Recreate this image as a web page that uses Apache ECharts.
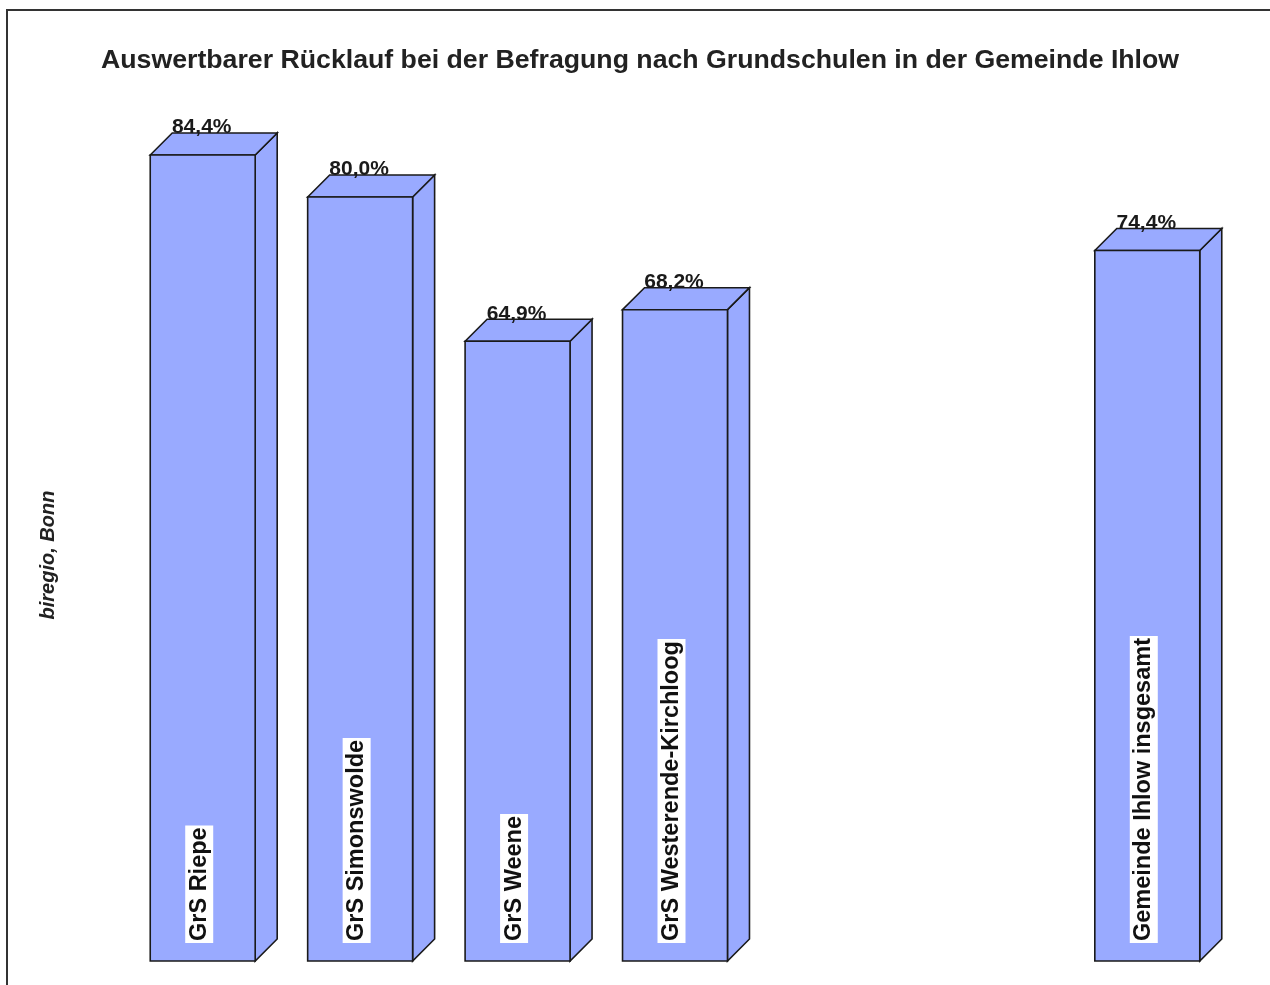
<!DOCTYPE html>
<html>
<head>
<meta charset="utf-8">
<script src="https://cdn.jsdelivr.net/npm/echarts@6/dist/echarts.min.js"></script>
<style>html,body{margin:0;padding:0;background:#fff}#c{width:1270px;height:985px}</style>
</head>
<body>
<div id="c"></div>
<script>
var titleText = 'Auswertbarer Rücklauf bei der Befragung nach Grundschulen in der Gemeinde Ihlow';
var categories = ['GrS Riepe', 'GrS Simonswolde', 'GrS Weene', 'GrS Westerende-Kirchloog', '', '', 'Gemeinde Ihlow insgesamt'];
var values = [84.4, 80.0, 64.9, 68.2, null, null, 74.4];
var sourceText = 'biregio, Bonn';

var chart = echarts.init(document.getElementById('c'), null, {renderer: 'canvas'});
var DEPTH = 22;
var FILL = '#99aaff';
var STROKE = '#1a1a1a';

function fmt(v) { return v.toFixed(1).replace('.', ',') + '%'; }

function renderItem(params, api) {
  var idx = api.value(0);
  var v = api.value(1);
  if (v == null || isNaN(v)) return;
  var top = api.coord([idx, v]);
  var base = api.coord([idx, 0]);
  var band = api.size([1, 0])[0];
  var w = band * 2 / 3;
  var x0 = top[0] - w / 2, x1 = top[0] + w / 2;
  var yt = top[1], yb = base[1];
  var d = DEPTH;
  var st = {fill: FILL, stroke: STROKE, lineWidth: 1.6, lineJoin: 'miter'};
  return {
    type: 'group',
    children: [
      {type: 'polygon', shape: {points: [[x1, yt], [x1 + d, yt - d], [x1 + d, yb - d], [x1, yb]]}, style: st},
      {type: 'polygon', shape: {points: [[x0, yt], [x0 + d, yt - d], [x1 + d, yt - d], [x1, yt]]}, style: st},
      {type: 'rect', shape: {x: x0, y: yt, width: w, height: yb - yt}, style: st},
      {type: 'text', x: top[0] - 1, y: yt - d + 5,
        style: {text: fmt(v), fill: '#1a1a1a', font: 'bold 21px "Liberation Sans", Arial, sans-serif', align: 'center', verticalAlign: 'bottom'}},
      {type: 'text', x: top[0] - 3.5, y: yb - 18, rotation: Math.PI / 2,
        style: {text: categories[idx], fill: '#111', font: 'bold 23.5px "Liberation Sans", Arial, sans-serif',
          align: 'left', verticalAlign: 'middle', backgroundColor: '#fff', padding: [2, 2, 1, 2], lineHeight: 25}}
    ]
  };
}

var data = values.map(function (v, i) { return [i, v]; });

chart.setOption({
  animation: false,
  title: {
    text: titleText, left: 101, top: 47, padding: 0,
    textStyle: {fontFamily: '"Liberation Sans", Arial, sans-serif', fontSize: 26.7, fontWeight: 'bold', color: '#222'}
  },
  grid: {left: 124, right: 44, top: 6, bottom: 24, containLabel: false},
  xAxis: {type: 'category', data: categories, show: false, boundaryGap: true},
  yAxis: {type: 'value', min: 0, max: 100, show: false},
  graphic: [
    {type: 'rect', shape: {x: 7, y: 10, width: 1300, height: 1000}, style: {fill: 'none', stroke: '#333', lineWidth: 2}, z: 100},
    {type: 'text', x: 48, y: 555, rotation: Math.PI / 2,
      style: {text: sourceText, fill: '#222', font: 'italic bold 20px "Liberation Sans", Arial, sans-serif', align: 'center', verticalAlign: 'middle'}}
  ],
  series: [{
    type: 'custom',
    renderItem: renderItem,
    encode: {x: 0, y: 1},
    data: data,
    clip: false
  }]
});
</script>
</body>
</html>
